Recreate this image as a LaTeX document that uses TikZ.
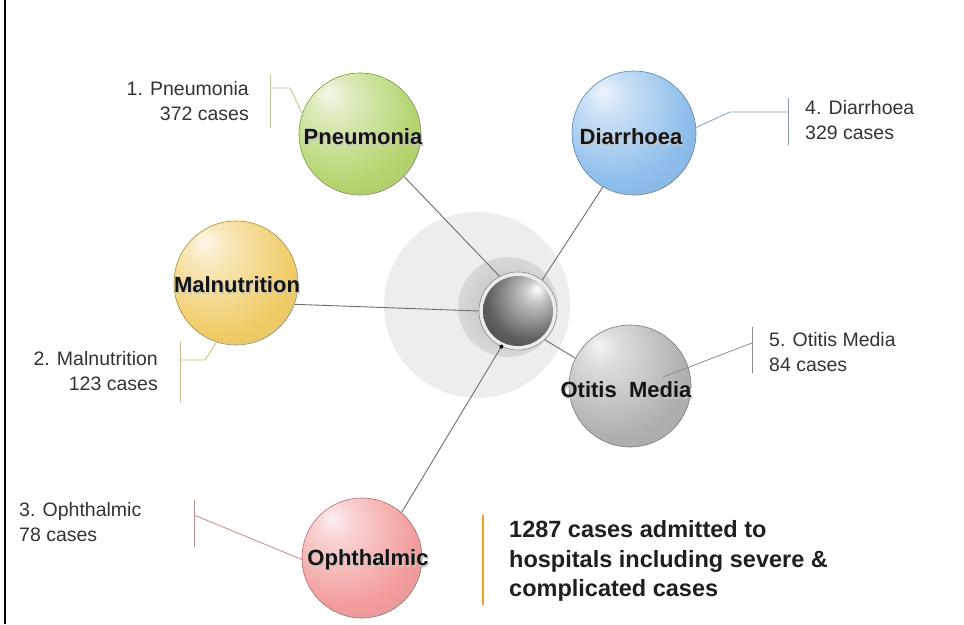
\documentclass[tikz,border=0pt]{standalone}
\usepackage{fontspec}
\setmainfont{Liberation Sans}
\definecolor{gB}{HTML}{B4D46E}
\definecolor{bB}{HTML}{8DBDEB}
\definecolor{yB}{HTML}{F0CC68}
\definecolor{sB}{HTML}{B0B0B0}
\definecolor{pB}{HTML}{F29C9C}
\definecolor{cB}{HTML}{5E5E5E}
\definecolor{txt}{HTML}{333333}
\definecolor{lnk}{HTML}{6E6E6E}
\definecolor{bigc}{HTML}{EDEDED}
\definecolor{midc}{HTML}{D9D9D9}
\definecolor{orng}{HTML}{F2A020}
\newcommand\mksphere[2]{%
  \pgfdeclareradialshading{#1}{\pgfpoint{-13bp}{17bp}}{%
    color(0bp)=(#2!15!white); color(8bp)=(#2!45!white); color(30bp)=(#2);
    color(52bp)=(#2!92!black); color(72bp)=(#2!75!black)}}
\mksphere{sphG}{gB}
\mksphere{sphB}{bB}
\mksphere{sphY}{yB}
\mksphere{sphS}{sB}
\mksphere{sphP}{pB}
\pgfdeclareradialshading{sphC}{\pgfpoint{14bp}{16bp}}{%
  color(0bp)=(white); color(8bp)=(cB!35!white); color(30bp)=(cB);
  color(55bp)=(cB!60!black); color(72bp)=(cB!50!black)}
\tikzset{
  sphere/.style={circle, inner sep=0pt, minimum size=122pt, draw=#1, line width=0.6pt},
  slabel/.style={font=\bfseries\fontsize{22}{26}\selectfont, text=black!92, inner sep=0pt},
  sshadow/.style={font=\bfseries\fontsize{22}{26}\selectfont, text=black!22, inner sep=0pt},
  ctext/.style={font=\fontsize{19.5}{24.5}\selectfont, text=txt, inner sep=0pt},
  link/.style={draw=lnk, line width=0.9pt},
  callout/.style={line width=0.8pt}
}
\begin{document}
\begin{tikzpicture}[x=1pt,y=-1pt]
\useasboundingbox (0,0) rectangle (964,624);
\fill[white] (0,0) rectangle (964,624);
% left frame line
\draw[black, line width=2.6pt] (5,0) -- (5,624);

% central rings
\node[circle, fill=bigc, minimum size=186pt, inner sep=0pt] (big) at (477,305) {};
\node[circle, inner color=midc!85!black, outer color=midc, minimum size=100pt, inner sep=0pt] (mid) at (508,307) {};
\node[circle, fill=white!92!black, draw=black!45, line width=0.6pt, minimum size=78pt, inner sep=0pt] (c) at (518,311) {};
\node[circle, shading=sphC, minimum size=70pt, inner sep=0pt] (cs) at (518,311) {};

% satellites
\node[sphere=gB!70!black, shading=sphG] (pn) at (360,134) {};
\node[sphere=bB!70!black, shading=sphB, minimum size=124pt] (dia) at (634,133) {};
\node[sphere=yB!70!black, shading=sphY, minimum size=124pt] (mal) at (236,283) {};
\node[sphere=sB!70!black, shading=sphS, minimum size=122pt] (oti) at (630,386) {};
\node[sphere=pB!70!black, shading=sphP, minimum size=120pt] (oph) at (362,558) {};

% connectors to centre
\draw[link] (pn.-44) -- (c.118);
\draw[link] (dia.-120) -- (c.52);
\draw[link] (mal.-20) -- (c.180);
\draw[link] (c.-47) -- (oti.153);
\draw[link] (c.-115) -- (oph.49);
\fill[black] (c.-115) circle (2pt);

% sphere labels (with soft shadow)
\node[sshadow] at (364.2,138.6) {Pneumonia};
\node[sshadow] at (632.2,138.6) {Diarrhoea};
\node[sshadow] at (238.2,286.6) {Malnutrition};
\node[sshadow] at (627.2,391.6) {Otitis\ \ Media};
\node[sshadow] at (369.2,561.6) {Ophthalmic};
\node[slabel] (pnl) at (363,137) {Pneumonia};
\node[slabel] (dial) at (631,137) {Diarrhoea};
\node[slabel] (mall) at (237,285) {Malnutrition};
\node[slabel] (otil) at (626,390) {Otitis\ \ Media};
\node[slabel] (ophl) at (368,560) {Ophthalmic};

% callouts
\coordinate (p1) at (270,75); \coordinate (p2) at (270,128);
\coordinate (p3) at (270,88); \coordinate (p4) at (290,88); \coordinate (p5) at (304,117);
\draw[callout, draw=gB!60!olive!70] (p1) -- (p2);
\draw[callout, draw=gB!60!olive!70] (p3) -- (p4) -- (p5);
\node[ctext, anchor=east, align=right] (t1) at (249,101) {1. Pneumonia\\372 cases};

\coordinate (d1) at (788,98); \coordinate (d2) at (788,145);
\coordinate (d3) at (788,112); \coordinate (d4) at (730,112); \coordinate (d5) at (695,128);
\draw[callout, draw=bB!85!black] (d1) -- (d2);
\draw[callout, draw=bB!85!black] (d3) -- (d4) -- (d5);
\node[ctext, anchor=west, align=left] (t4) at (805,120) {4. Diarrhoea\\329 cases};

\coordinate (m1) at (180,342); \coordinate (m2) at (180,402);
\coordinate (m3) at (180,360); \coordinate (m4) at (205,360); \coordinate (m5) at (216,343);
\draw[callout, draw=yB!90!black] (m1) -- (m2);
\draw[callout, draw=yB!90!black] (m3) -- (m4) -- (m5);
\node[ctext, anchor=east, align=right] (t2) at (158,371) {2. Malnutrition\\123 cases};

\coordinate (o1) at (752,327); \coordinate (o2) at (752,373);
\coordinate (o3) at (752,343); \coordinate (o4) at (663,377);
\draw[callout, draw=black!45] (o1) -- (o2);
\draw[callout, draw=black!45] (o3) -- (o4);
\node[ctext, anchor=west, align=left] (t5) at (769,352) {5. Otitis Media\\84 cases};

\coordinate (h1) at (194,500); \coordinate (h2) at (194,547);
\coordinate (h3) at (194,515); \coordinate (h4) at (303,560);
\draw[callout, draw=pB!85!black] (h1) -- (h2);
\draw[callout, draw=pB!85!black] (h3) -- (h4);
\node[ctext, anchor=west, align=left] (t3) at (19,522) {3. Ophthalmic\\78 cases};

% summary
\coordinate (s1) at (483,515); \coordinate (s2) at (483,605);
\draw[orng, line width=2.6pt] (s1) -- (s2);
\node[anchor=west, align=left, inner sep=0pt, text=black!88,
      font=\bfseries\fontsize{23.5}{29.5}\selectfont] (sum) at (509,561)
  {1287 cases admitted to\\hospitals including severe \&\\complicated cases};
\end{tikzpicture}
\end{document}
